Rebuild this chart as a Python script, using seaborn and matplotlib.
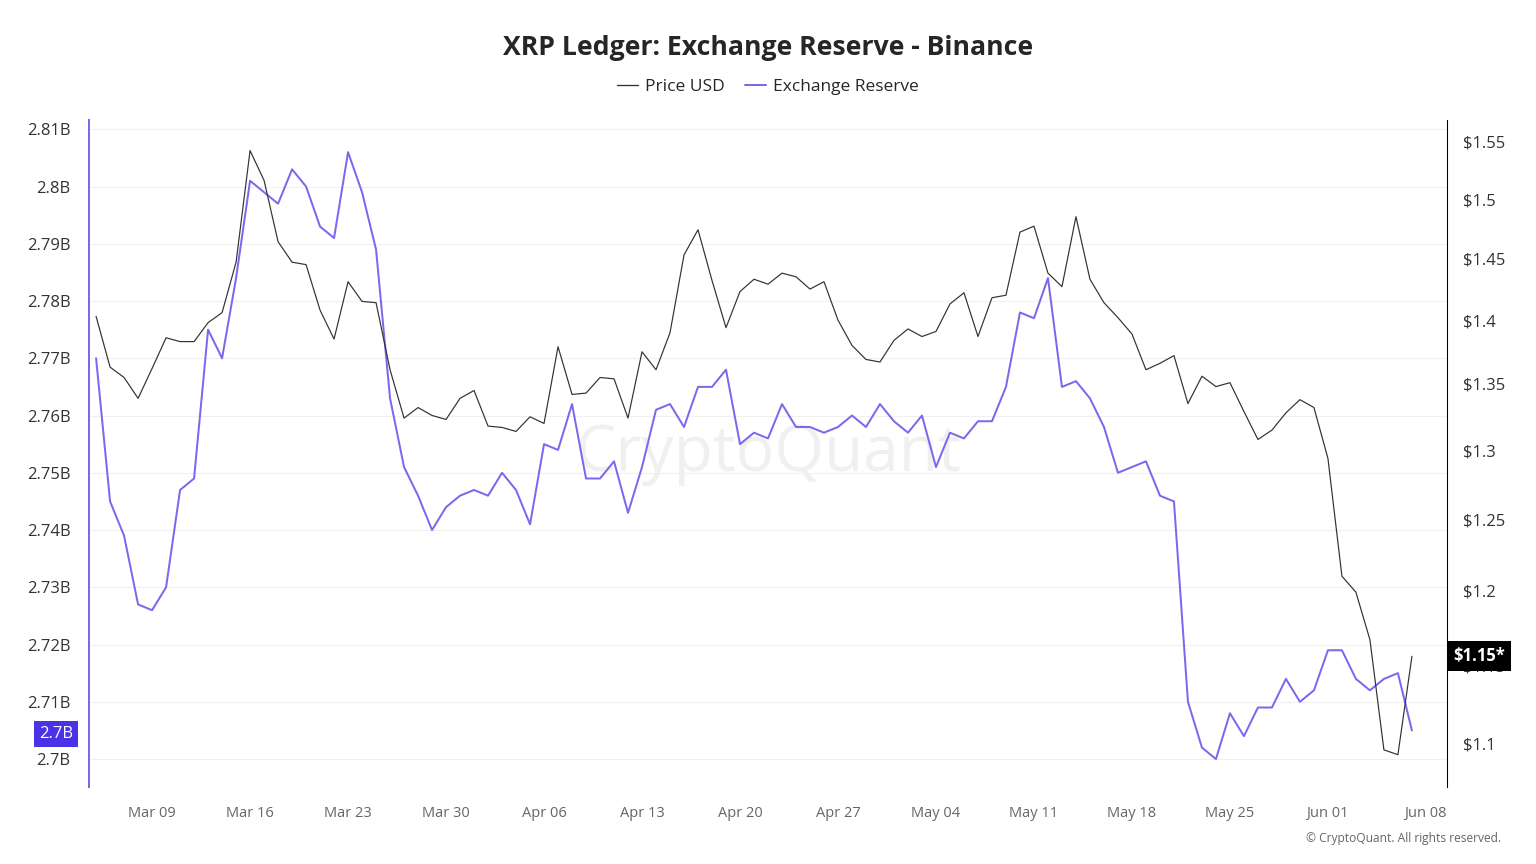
import matplotlib.pyplot as plt
import matplotlib.dates as mdates
import matplotlib.ticker as mtick
import pandas as pd
import seaborn as sns

reserve = [2.770, 2.745, 2.739, 2.727, 2.726, 2.730, 2.747, 2.749, 2.775, 2.770,
           2.784, 2.801, 2.799, 2.797, 2.803, 2.800, 2.793, 2.791, 2.806, 2.799,
           2.789, 2.763, 2.751, 2.746, 2.740, 2.744, 2.746, 2.747, 2.746, 2.750,
           2.747, 2.741, 2.755, 2.754, 2.762, 2.749, 2.749, 2.752, 2.743, 2.751,
           2.761, 2.762, 2.758, 2.765, 2.765, 2.768, 2.755, 2.757, 2.756, 2.762,
           2.758, 2.758, 2.757, 2.758, 2.760, 2.758, 2.762, 2.759, 2.757, 2.760,
           2.751, 2.757, 2.756, 2.759, 2.759, 2.765, 2.778, 2.777, 2.784, 2.765,
           2.766, 2.763, 2.758, 2.750, 2.751, 2.752, 2.746, 2.745, 2.710, 2.702,
           2.700, 2.708, 2.704, 2.709, 2.709, 2.714, 2.710, 2.712, 2.719, 2.719,
           2.714, 2.712, 2.714, 2.715, 2.705]
price = [1.403, 1.363, 1.355, 1.339, 1.362, 1.386, 1.383, 1.383, 1.398, 1.406,
         1.447, 1.542, 1.516, 1.464, 1.447, 1.445, 1.408, 1.385, 1.431, 1.415,
         1.414, 1.361, 1.324, 1.332, 1.326, 1.323, 1.339, 1.345, 1.318, 1.317,
         1.314, 1.325, 1.320, 1.379, 1.342, 1.343, 1.355, 1.354, 1.324, 1.375,
         1.361, 1.390, 1.453, 1.474, 1.432, 1.394, 1.423, 1.433, 1.429, 1.438,
         1.435, 1.425, 1.431, 1.400, 1.380, 1.369, 1.367, 1.384, 1.393, 1.387,
         1.391, 1.413, 1.422, 1.387, 1.418, 1.420, 1.472, 1.477, 1.438, 1.427,
         1.485, 1.433, 1.414, 1.402, 1.389, 1.361, 1.366, 1.372, 1.335, 1.356,
         1.348, 1.351, 1.329, 1.308, 1.315, 1.328, 1.338, 1.332, 1.294, 1.210,
         1.199, 1.167, 1.096, 1.093, 1.156]

df_r = pd.DataFrame({"date": pd.date_range("2025-03-05", periods=len(reserve)), "reserve": reserve})
df_p = pd.DataFrame({"date": pd.date_range("2025-03-05", periods=len(price)), "price": price})

sns.set_style("white")
plt.rcParams['font.family'] = ['Open Sans', 'DejaVu Sans']
purple = "#7b68ee"

fig, ax = plt.subplots(figsize=(16, 9), dpi=96)
fig.subplots_adjust(left=0.058, right=0.942, top=0.861, bottom=0.089)
ax2 = ax.twinx()

sns.lineplot(data=df_r, x="date", y="reserve", ax=ax, color=purple, lw=1.5)
sns.lineplot(data=df_p, x="date", y="price", ax=ax2, color="#333333", lw=0.9)

ax.set_ylim(2.6951, 2.8116)
ax2.set_yscale("log")
ax2.set_ylim(1.073, 1.569)
ax.set_xlim(pd.Timestamp("2025-03-04 12:00"), pd.Timestamp("2025-06-09 12:00"))
ax.set_yticks([2.70, 2.71, 2.72, 2.73, 2.74, 2.75, 2.76, 2.77, 2.78, 2.79, 2.80, 2.81])
ax.yaxis.set_major_formatter(mtick.FuncFormatter(lambda v, p: f"{v:g}B"))
ax2.yaxis.set_major_locator(mtick.FixedLocator([1.1, 1.15, 1.2, 1.25, 1.3, 1.35, 1.4, 1.45, 1.5, 1.55]))
ax2.yaxis.set_minor_locator(mtick.NullLocator())
ax2.yaxis.set_major_formatter(mtick.FuncFormatter(lambda v, p: f"${v:g}"))
ax.xaxis.set_major_locator(mdates.WeekdayLocator(byweekday=mdates.SU))
ax.xaxis.set_major_formatter(mdates.DateFormatter("%b %d"))
ax.grid(axis="y", color="#f0f0f0", lw=0.8)
ax.set_xlabel("")
ax.set_ylabel("")
ax2.set_ylabel("")
for a in (ax, ax2):
    for s in a.spines.values():
        s.set_visible(False)
ax.spines["left"].set_visible(True)
ax.spines["left"].set_color(purple)
ax.spines["left"].set_linewidth(1.5)
ax2.spines["right"].set_visible(True)
ax2.spines["right"].set_color("black")
ax.tick_params(axis="y", labelsize=12.5, colors="#333333", length=0, pad=14)
ax2.tick_params(axis="y", labelsize=12.5, colors="#333333", length=0, pad=12)
ax.tick_params(axis="x", labelsize=11, colors="#666666", length=0, pad=14)

ax.text(-0.012, 2.7043, "2.7B", transform=ax.get_yaxis_transform(), ha="right", va="center",
        fontsize=12.5, color="white", bbox=dict(boxstyle="square,pad=0.3", fc="#4b32e6", ec="none"))
ax2.text(1.005, price[-1], "$1.15*", transform=ax2.get_yaxis_transform(), ha="left", va="center",
         fontsize=12.5, color="white", fontweight="bold", zorder=10,
         bbox=dict(boxstyle="square,pad=0.35", fc="black", ec="none"))
ax.text(0.5, 0.5, "CryptoQuant", transform=ax.transAxes, ha="center", va="center",
        fontsize=48, color="#e6e6e6", alpha=0.6, zorder=0)

fig.suptitle("XRP Ledger: Exchange Reserve - Binance", y=0.96, fontsize=20, fontweight="bold")
fig.legend(handles=[plt.Line2D([], [], color="#333333", lw=1), plt.Line2D([], [], color=purple, lw=1.5)],
           labels=["Price USD", "Exchange Reserve"], loc="center", bbox_to_anchor=(0.5, 0.899),
           ncol=2, frameon=False, fontsize=13, handlelength=1.2, handletextpad=0.4, columnspacing=1.2)
fig.text(0.85, 0.025, "© CryptoQuant. All rights reserved.", fontsize=9, color="#666666")

fig.savefig("out.png", dpi=96)
